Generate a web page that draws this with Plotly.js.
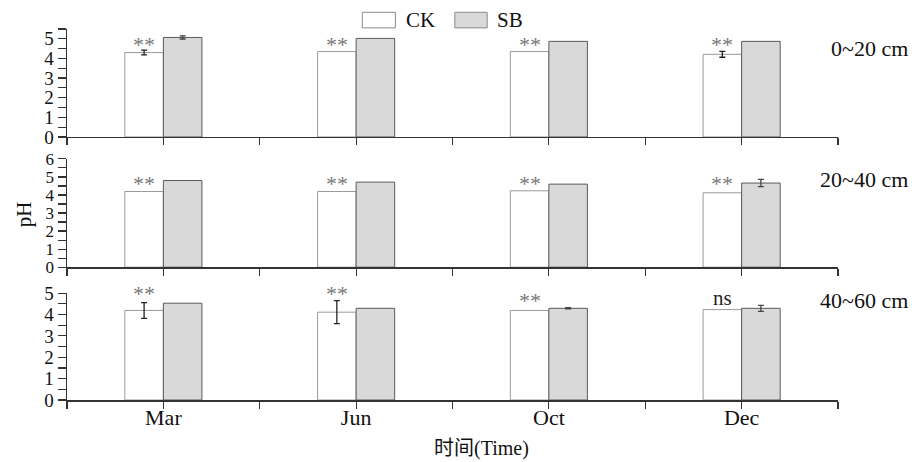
<!DOCTYPE html>
<html>
<head>
<meta charset="utf-8">
<script src="https://cdn.plot.ly/plotly-3.0.1.min.js"></script>
<style>html,body{margin:0;padding:0;background:#fff;}#chart{width:914px;height:462px;}</style>
</head>
<body>
<div id="chart"></div>
<script>
// ---- data ----
const months = ['Mar', 'Jun', 'Oct', 'Dec'];
const seriesNames = ['CK', 'SB'];
const depthLabels = ['0~20 cm', '20~40 cm', '40~60 cm'];

const ck_0_20 = [4.30, 4.35, 4.35, 4.21];
const ck_0_20_err = [0.12, 0, 0, 0.15];
const sb_0_20 = [5.07, 5.02, 4.87, 4.87];
const sb_0_20_err = [0.08, 0, 0, 0];

const ck_20_40 = [4.19, 4.19, 4.23, 4.12];
const ck_20_40_err = [0, 0, 0, 0];
const sb_20_40 = [4.80, 4.71, 4.60, 4.66];
const sb_20_40_err = [0, 0, 0, 0.20];

const ck_40_60 = [4.19, 4.11, 4.19, 4.23];
const ck_40_60_err = [0.37, 0.54, 0, 0];
const sb_40_60 = [4.53, 4.29, 4.29, 4.29];
const sb_40_60_err = [0, 0, 0.03, 0.14];

const sig_0_20 = ['**', '**', '**', '**'];
const sig_20_40 = ['**', '**', '**', '**'];
const sig_40_60 = ['**', '**', '**', 'ns'];

// ---- build ----
const xpos = months.map((m, i) => i);
const FONT = 'Liberation Serif, Times New Roman, serif';
const panels = [
  {ck: ck_0_20, ckE: ck_0_20_err, sb: sb_0_20, sbE: sb_0_20_err, sig: sig_0_20, sigY: [0.86, 0.86, 0.86, 0.86], xa: 'x', ya: 'y', range: [0, 5.5], depthY: 0.82, tf: 19},
  {ck: ck_20_40, ckE: ck_20_40_err, sb: sb_20_40, sbE: sb_20_40_err, sig: sig_20_40, sigY: [0.77, 0.77, 0.77, 0.77], xa: 'x2', ya: 'y2', range: [0, 6], depthY: 0.81, tf: 17},
  {ck: ck_40_60, ckE: ck_40_60_err, sb: sb_40_60, sbE: sb_40_60_err, sig: sig_40_60, sigY: [1.0, 1.0, 0.93, 0.95], xa: 'x3', ya: 'y3', range: [0, 5], depthY: 0.93, tf: 19}
];

function errArr(a) { return a.map(v => (v > 0 ? v : NaN)); }

const traces = [];
const annotations = [];
panels.forEach((p, k) => {
  traces.push({
    type: 'bar', name: seriesNames[0], x: xpos, y: p.ck, xaxis: p.xa, yaxis: p.ya,
    marker: {color: '#ffffff', line: {color: '#9a9a9a', width: 1}},
    error_y: {type: 'data', array: errArr(p.ckE), visible: true, color: '#222', thickness: 1.3, width: 3},
    showlegend: false, hoverinfo: 'skip'
  });
  traces.push({
    type: 'bar', name: seriesNames[1], x: xpos, y: p.sb, xaxis: p.xa, yaxis: p.ya,
    marker: {color: '#d9d9d9', line: {color: '#5a5a5a', width: 1}},
    error_y: {type: 'data', array: errArr(p.sbE), visible: true, color: '#444', thickness: 1.3, width: 3},
    showlegend: false, hoverinfo: 'skip'
  });
  p.sig.forEach((s, i) => {
    annotations.push({
      x: xpos[i] - 0.1, y: p.sigY[i], xref: p.xa, yref: p.ya + ' domain',
      text: s, showarrow: false, yanchor: 'middle',
      font: {family: FONT, size: s === 'ns' ? 21 : 22, color: s === 'ns' ? '#222' : '#777'}
    });
  });
  annotations.push({
    x: 1.093, xref: 'paper', y: p.depthY, yref: p.ya + ' domain',
    text: depthLabels[k], showarrow: false, xanchor: 'right', yanchor: 'middle',
    font: {family: FONT, size: 22, color: '#111'}
  });
});

annotations.push({
  x: -0.056, xref: 'paper', y: 0.50, yref: 'paper', text: 'pH', textangle: -90,
  xanchor: 'center', yanchor: 'middle',
  showarrow: false, font: {family: FONT, size: 21, color: '#111'}
});
annotations.push({
  x: 0.537, xref: 'paper', y: -0.132, yref: 'paper', text: '时间(Time)',
  xanchor: 'center', yanchor: 'middle',
  showarrow: false, font: {family: 'Liberation Serif, Noto Sans CJK SC, serif', size: 20, color: '#111'}
});
// legend (custom)
annotations.push({x: 0.4365, xref: 'paper', y: 1.024, yref: 'paper', text: seriesNames[0], showarrow: false,
  xanchor: 'left', yanchor: 'middle', font: {family: FONT, size: 21, color: '#111'}});
annotations.push({x: 0.555, xref: 'paper', y: 1.024, yref: 'paper', text: seriesNames[1], showarrow: false,
  xanchor: 'left', yanchor: 'middle', font: {family: FONT, size: 21, color: '#111'}});
const shapes = [
  {type: 'rect', xref: 'paper', yref: 'paper', x0: 0.383, x1: 0.426, y0: 1.003, y1: 1.045,
   fillcolor: '#ffffff', line: {color: '#8a8a8a', width: 1}},
  {type: 'rect', xref: 'paper', yref: 'paper', x0: 0.503, x1: 0.545, y0: 1.003, y1: 1.045,
   fillcolor: '#d9d9d9', line: {color: '#8a8a8a', width: 1}}
];

const xTickVals = [-0.5, 0, 0.5, 1, 1.5, 2, 2.5, 3, 3.5];
function xaxis(anchor, showLabels) {
  return {
    anchor: anchor, domain: [0, 1], range: [-0.5, 3.5], showline: true, linecolor: '#333', linewidth: 1.5,
    ticks: 'outside', ticklen: 7, tickcolor: '#333', tickwidth: 1.2,
    tickvals: xTickVals,
    ticktext: xTickVals.map(v => (showLabels && Number.isInteger(v) && v >= 0) ? months[v] : ''),
    tickfont: {family: FONT, size: 22, color: '#111'}, showgrid: false, zeroline: false, fixedrange: true,
    ticklabelstandoff: -10
  };
}
function yaxis(domain, p) {
  const vals = [];
  for (let v = p.range[0]; v <= p.range[1] + 1e-9; v += 0.5) vals.push(v);
  return {
    domain: domain, range: p.range, showline: true, linecolor: '#333', linewidth: 1.5,
    ticks: 'outside', ticklen: 8, tickcolor: '#333', tickwidth: 1.2,
    tickvals: vals, ticktext: vals.map(v => Number.isInteger(v) ? String(v) : ''),
    tickfont: {family: FONT, size: p.tf, color: '#111'}, showgrid: false, zeroline: false, fixedrange: true,
    ticklabelstandoff: 0
  };
}

const layout = {
  width: 914, height: 462,
  margin: {l: 67, r: 76, t: 29, b: 62},
  paper_bgcolor: '#ffffff', plot_bgcolor: '#ffffff',
  barmode: 'group', bargap: 0.6, bargroupgap: 0,
  showlegend: false,
  xaxis: xaxis('y', false),
  xaxis2: xaxis('y2', false),
  xaxis3: xaxis('y3', true),
  yaxis: yaxis([0.709, 1.0], panels[0]),
  yaxis2: yaxis([0.358, 0.650], panels[1]),
  yaxis3: yaxis([0.0, 0.288], panels[2]),
  annotations: annotations,
  shapes: shapes
};

Plotly.newPlot('chart', traces, layout, {staticPlot: true, displayModeBar: false});
</script>
</body>
</html>
